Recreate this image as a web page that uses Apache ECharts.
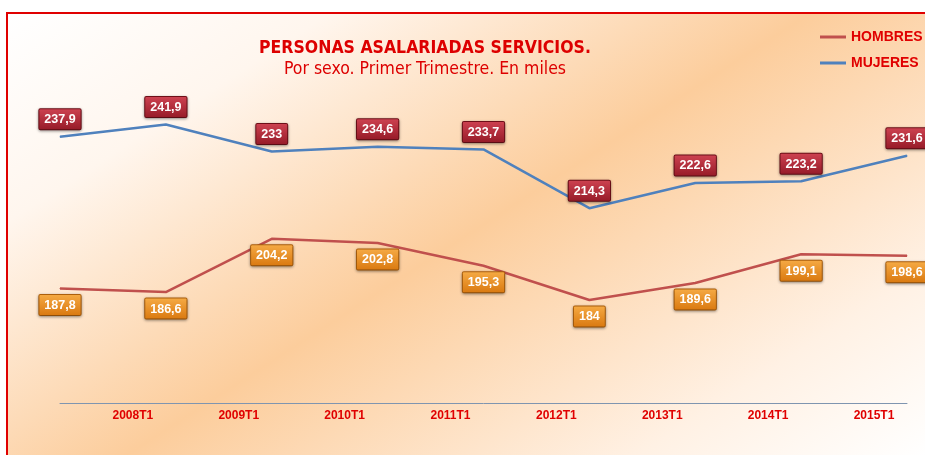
<!DOCTYPE html>
<html>
<head>
<meta charset="utf-8">
<script src="https://cdn.jsdelivr.net/npm/echarts@6/dist/echarts.min.js"></script>
<style>
  html, body { margin: 0; padding: 0; background: #fff; }
  #chart { width: 925px; height: 455px; }
</style>
</head>
<body>
<div id="chart"></div>
<script>
// datos: 9 trimestres, el primero sin etiqueta en el eje
var categorias = ['', '2008T1', '2009T1', '2010T1', '2011T1', '2012T1', '2013T1', '2014T1', '2015T1'];
var hombres = [187.8, 186.6, 204.2, 202.8, 195.3, 184, 189.6, 199.1, 198.6];
var mujeres = [237.9, 241.9, 233, 234.6, 233.7, 214.3, 222.6, 223.2, 231.6];

var rojo = '#e00000';

function coma(p) {
    return String(p.value).replace('.', ',');
}

function caja(top, bottom, borde) {
    return {
        show: true,
        formatter: coma,
        color: '#fff',
        fontFamily: 'Liberation Sans, Arial, sans-serif',
        fontWeight: 'bold',
        fontSize: 12.5,
        padding: [4, 5, 3, 5],
        borderColor: borde,
        borderWidth: 1,
        borderRadius: 1,
        shadowBlur: 3,
        shadowOffsetY: 1,
        shadowColor: 'rgba(0,0,0,0.35)',
        backgroundColor: {
            type: 'linear', x: 0, y: 0, x2: 0, y2: 1,
            colorStops: [{offset: 0, color: top}, {offset: 1, color: bottom}]
        }
    };
}

var myChart = echarts.init(document.getElementById('chart'));

var labelH = caja('#f6ab45', '#d9780f', '#b5640d');
labelH.position = 'bottom';
labelH.distance = 6;

var labelM = caja('#cf4352', '#951a27', '#731019');
labelM.position = 'top';
labelM.distance = 7;

var option = {
    backgroundColor: '#fff',
    animation: false,
    graphic: [{
        type: 'rect',
        z: -10,
        shape: {x: 7, y: 13, width: 950, height: 470},
        style: {
            stroke: rojo,
            lineWidth: 2,
            fill: {
                type: 'linear', x: 239, y: -135, x2: 711, y2: 595, global: true,
                colorStops: [
                    {offset: 0, color: '#ffffff'},
                    {offset: 0.2, color: '#fff6ee'},
                    {offset: 0.5, color: '#fccd9c'},
                    {offset: 0.82, color: '#fff1e4'},
                    {offset: 1, color: '#ffffff'}
                ]
            }
        }
    }],
    title: {
        text: 'PERSONAS ASALARIADAS SERVICIOS.',
        subtext: 'Por sexo. Primer Trimestre. En miles',
        left: 420,
        top: 34,
        textAlign: 'center',
        itemGap: 3,
        textStyle: {
            color: '#dd0000',
            fontFamily: 'Liberation Sans Narrow, Arial Narrow, DejaVu Sans Condensed, sans-serif',
            fontWeight: 'bold',
            fontSize: 17.5
        },
        subtextStyle: {
            color: '#dd0000',
            fontFamily: 'Liberation Sans Narrow, Arial Narrow, DejaVu Sans Condensed, sans-serif',
            fontSize: 17.5
        }
    },
    legend: {
        orient: 'vertical',
        left: 815,
        top: 25,
        itemWidth: 26,
        itemHeight: 3,
        itemGap: 12,
        icon: 'rect',
        textStyle: {
            color: rojo,
            fontFamily: 'Liberation Sans, Arial, sans-serif',
            fontWeight: 'bold',
            fontSize: 14
        },
        data: ['HOMBRES', 'MUJERES']
    },
    grid: {left: 60, right: 18, top: 100, bottom: 52},
    xAxis: {
        type: 'category',
        boundaryGap: false,
        data: categorias,
        axisLine: {lineStyle: {color: '#7f95b0', width: 1}},
        axisTick: {show: false},
        axisLabel: {
            interval: 0,
            margin: 7,
            formatter: function (v) { return v ? '{a|' + v + '}' : ''; },
            rich: {
                a: {
                    color: rojo,
                    fontFamily: 'Liberation Sans, Arial, sans-serif',
                    fontWeight: 'bold',
                    fontSize: 12,
                    padding: [0, 66, 0, 0]
                }
            }
        }
    },
    yAxis: {
        type: 'value',
        min: 150,
        max: 250,
        show: false,
        splitLine: {show: false}
    },
    series: [{
        name: 'HOMBRES',
        type: 'line',
        data: hombres,
        symbol: 'circle',
        symbolSize: 1,
        color: '#c0504d',
        lineStyle: {color: '#c0504d', width: 2.5},
        label: labelH
    }, {
        name: 'MUJERES',
        type: 'line',
        data: mujeres,
        symbol: 'circle',
        symbolSize: 1,
        color: '#4f81bd',
        lineStyle: {color: '#4f81bd', width: 2.5},
        label: labelM
    }]
};

myChart.setOption(option);
</script>
</body>
</html>
